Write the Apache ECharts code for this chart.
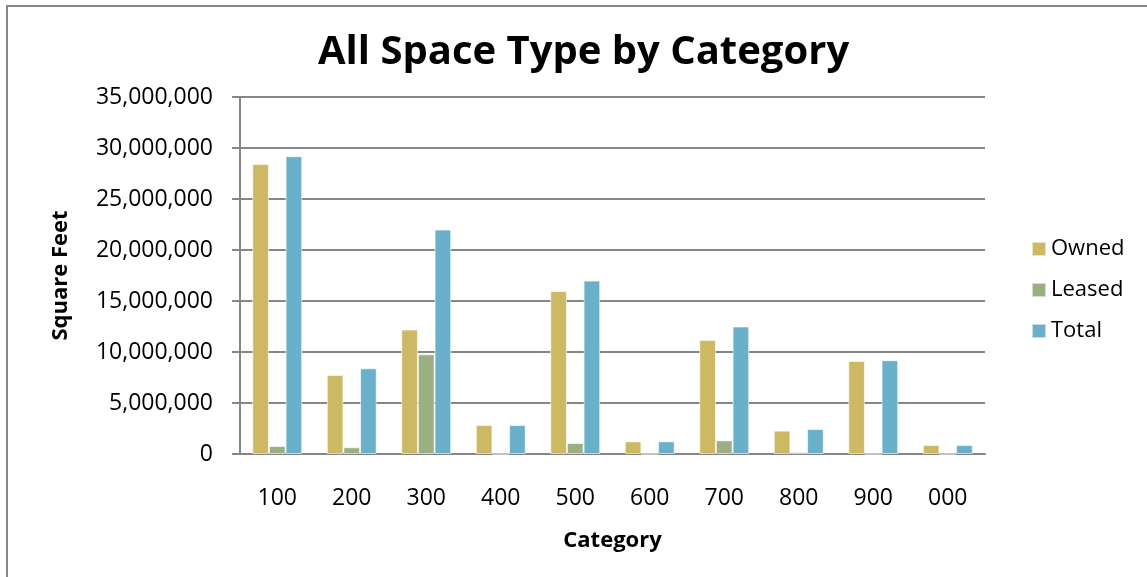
<!DOCTYPE html>
<html>
<head>
<meta charset="utf-8">
<script src="https://cdn.jsdelivr.net/npm/echarts@6/dist/echarts.min.js"></script>
<style>
  html, body { margin: 0; padding: 0; background: #fff; }
  #chart { width: 1147px; height: 577px; }
</style>
</head>
<body>
<div id="chart"></div>
<script>
// Chart data
const categories = ["100", "200", "300", "400", "500", "600", "700", "800", "900", "000"];
const owned = [28430000, 7750000, 12200000, 2840000, 15980000, 1240000, 11180000, 2290000, 9120000, 880000];
const leased = [780000, 660000, 9770000, 0, 1080000, 0, 1340000, 200000, 0, 0];
const total = [29200000, 8400000, 22000000, 2840000, 17000000, 1240000, 12500000, 2450000, 9200000, 880000];
const seriesNames = ["Owned", "Leased", "Total"];
const colors = ["#CDB864", "#9CAF83", "#6AB0CA"];

const font = "Open Sans";
const chart = echarts.init(document.getElementById("chart"));

const barSeries = (name, data, color) => ({
  name: name,
  type: "bar",
  data: data,
  barGap: "0%",
  barCategoryGap: "33%",
  itemStyle: { color: color, borderColor: "rgba(255,255,255,0.6)", borderWidth: 1 },
});

const option = {
  animation: false,
  textStyle: { fontFamily: font, color: "#000" },
  graphic: [
    {
      type: "rect",
      shape: { x: 7, y: 6, width: 1160, height: 600 },
      style: { fill: "none", stroke: "#868686", lineWidth: 2 },
      silent: true,
    },
  ],
  title: {
    text: "All Space Type by Category",
    left: 313,
    top: 28,
    textStyle: { fontFamily: font, fontSize: 40, fontWeight: "bold", color: "#000" },
  },
  legend: {
    orient: "vertical",
    left: 1026,
    top: 233,
    itemWidth: 14,
    itemHeight: 14,
    itemGap: 19,
    icon: "rect",
    textStyle: { fontFamily: font, fontSize: 22, color: "#000" },
    data: seriesNames,
  },
  grid: { left: 240, right: 162, top: 97, bottom: 123 },
  xAxis: {
    type: "category",
    data: categories,
    name: "Category",
    nameLocation: "middle",
    nameGap: 76,
    nameTextStyle: { fontFamily: font, fontSize: 22, fontWeight: "bold", color: "#000" },
    axisLine: { lineStyle: { color: "#868686", width: 2 } },
    axisTick: { show: false },
    axisLabel: { margin: 33, fontSize: 23, color: "#000", fontFamily: font },
  },
  yAxis: {
    type: "value",
    min: 0,
    max: 35000000,
    interval: 5000000,
    name: "Square Feet",
    nameLocation: "middle",
    nameGap: 168,
    nameTextStyle: { fontFamily: font, fontSize: 22, fontWeight: "bold", color: "#000" },
    axisLine: { show: true, lineStyle: { color: "#868686", width: 2 } },
    axisTick: { show: true, length: 8, lineStyle: { color: "#868686", width: 2 } },
    axisLabel: {
      margin: 27,
      fontSize: 23,
      color: "#000",
      fontFamily: font,
      formatter: (v) => v.toLocaleString("en-US"),
    },
    splitLine: { lineStyle: { color: "#868686", width: 2 } },
  },
  series: [
    barSeries(seriesNames[0], owned, colors[0]),
    barSeries(seriesNames[1], leased, colors[1]),
    barSeries(seriesNames[2], total, colors[2]),
  ],
};

chart.setOption(option);
</script>
</body>
</html>
